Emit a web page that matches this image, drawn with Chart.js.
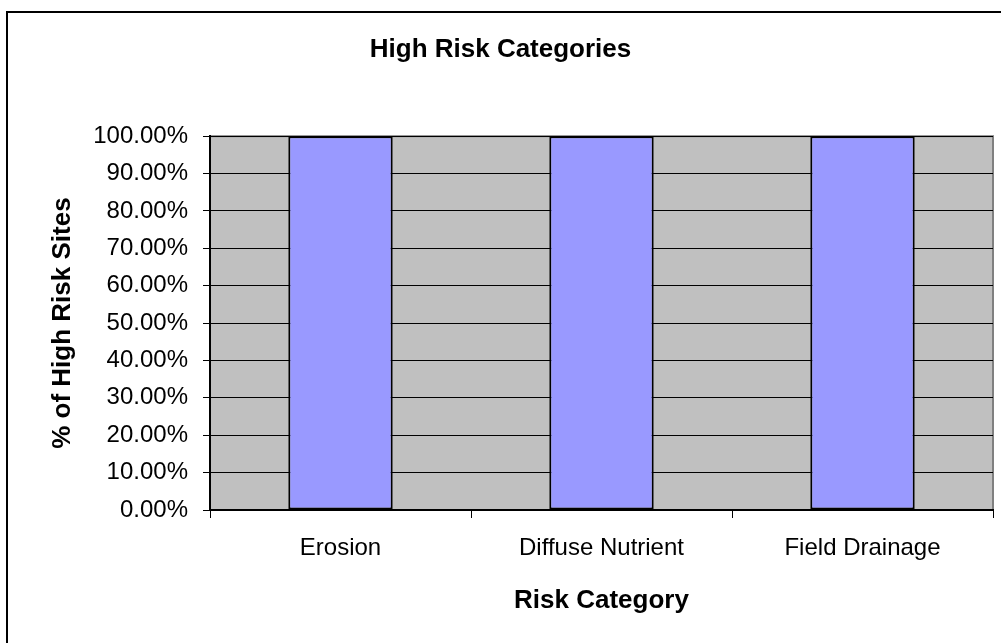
<!DOCTYPE html>
<html lang="en">
<head>
    <meta charset="UTF-8">
    <title>High Risk Categories</title>
    <script src="https://cdn.jsdelivr.net/npm/chart.js"></script>
    <style>
        html, body { margin: 0; padding: 0; background: #fff; }
        .chart-box { width: 1001px; height: 643px; }
    </style>
</head>
<body>
    <div class="chart-box">
        <canvas id="riskChart"></canvas>
    </div>

    <script>
        // data
        const categories = ['Erosion', 'Diffuse Nutrient', 'Field Drainage'];
        const highRiskPct = [100, 100, 100];
        const yTicks = [0, 10, 20, 30, 40, 50, 60, 70, 80, 90, 100];

        const FONT = 'Arial, "Liberation Sans", sans-serif';

        // gray plot area + outer frame, like the old Excel chart
        const frame = {
            id: 'frame',
            beforeDraw(chart) {
                const ctx = chart.ctx;
                const a = chart.chartArea;
                ctx.save();
                ctx.strokeStyle = '#000';
                ctx.lineWidth = 2;
                ctx.strokeRect(7, 12, 1010, 650);
                ctx.fillStyle = '#c0c0c0';
                ctx.fillRect(a.left, a.top, a.right - a.left, a.bottom - a.top);
                ctx.strokeStyle = '#808080';
                ctx.lineWidth = 2;
                ctx.strokeRect(a.left, a.top, a.right - a.left, a.bottom - a.top);
                ctx.restore();
            }
        };

        new Chart(document.getElementById('riskChart'), {
            type: 'bar',
            data: {
                labels: categories,
                datasets: [{
                    label: '% of High Risk Sites',
                    data: highRiskPct,
                    backgroundColor: '#9999ff',
                    borderColor: '#000',
                    borderWidth: 2,
                    borderSkipped: false,
                    categoryPercentage: 1,
                    barPercentage: 0.4
                }]
            },
            options: {
                responsive: true,
                maintainAspectRatio: false,
                animation: false,
                layout: { padding: { left: 8, right: 8, top: 0, bottom: 9 } },
                plugins: {
                    legend: { display: false },
                    tooltip: { enabled: false },
                    title: {
                        display: true,
                        text: 'High Risk Categories',
                        color: '#000',
                        font: { family: FONT, size: 26, weight: 'bold' },
                        padding: { top: 34, bottom: 71 }
                    }
                },
                scales: {
                    x: {
                        grid: {
                            display: true,
                            drawOnChartArea: false,
                            drawTicks: true,
                            tickLength: 8,
                            color: '#000'
                        },
                        border: { color: '#000', width: 2 },
                        ticks: {
                            color: '#000',
                            padding: 16,
                            font: { family: FONT, size: 24 }
                        },
                        title: {
                            display: true,
                            text: 'Risk Category',
                            color: '#000',
                            font: { family: FONT, size: 26, weight: 'bold' },
                            padding: { top: 0, bottom: 18 }
                        },
                        afterFit(scale) { scale.height = 643 - 9 - 510; }
                    },
                    y: {
                        min: 0,
                        max: 100,
                        afterBuildTicks(scale) {
                            scale.ticks = yTicks.map(v => ({ value: v }));
                        },
                        grid: {
                            color: '#000',
                            lineWidth: 1,
                            tickLength: 7
                        },
                        border: { color: '#000', width: 2 },
                        ticks: {
                            color: '#000',
                            padding: 15,
                            font: { family: FONT, size: 24 },
                            callback: v => v.toFixed(2) + '%'
                        },
                        title: {
                            display: true,
                            text: '% of High Risk Sites',
                            color: '#000',
                            font: { family: FONT, size: 26, weight: 'bold' },
                            padding: { top: 39, bottom: 0 }
                        },
                        afterFit(scale) { scale.width = 210 - 8; }
                    }
                }
            },
            plugins: [frame]
        });
    </script>
</body>
</html>
